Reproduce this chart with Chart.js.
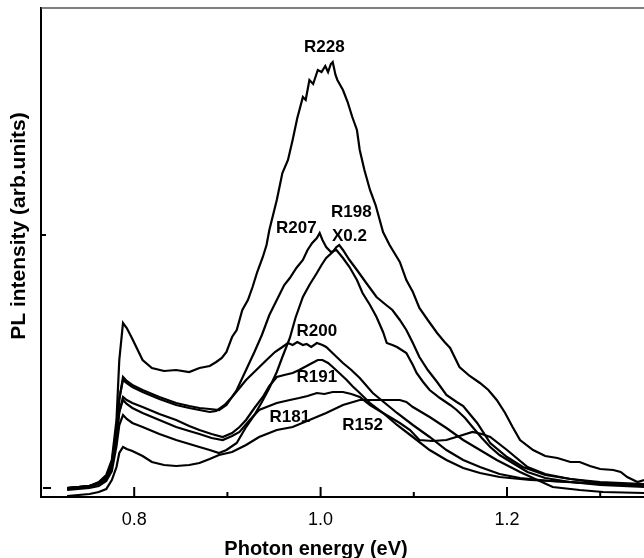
<!DOCTYPE html>
<html>
<head>
<meta charset="utf-8">
<script src="https://cdn.jsdelivr.net/npm/chart.js@4.4.1/dist/chart.umd.min.js"></script>
<style>html,body{margin:0;padding:0;background:#fff}</style>
</head>
<body>
<canvas id="plChart" width="644" height="558"></canvas>
<script>
// PL spectra of the R-samples, photon energy (eV) vs intensity (arb. units)

const eR228 = [0.728,0.752,0.762,0.770,0.776,0.781,0.784,0.788,0.792,0.797,0.809,0.819,0.832,0.845,0.859,0.870,0.881,0.888,0.894,0.899,0.905,0.910,0.916,0.922,0.927,0.932,0.938,0.942,0.945,0.953,0.959,0.965,0.970,0.975,0.981,0.984,0.988,0.992,0.997,1.001,1.005,1.008,1.011,1.013,1.016,1.018,1.024,1.029,1.034,1.039,1.042,1.047,1.053,1.059,1.067,1.074,1.085,1.092,1.099,1.106,1.115,1.125,1.133,1.139,1.149,1.160,1.171,1.180,1.189,1.198,1.206,1.214,1.228,1.241,1.254,1.268,1.278,1.289,1.300,1.314,1.322,1.329,1.340,1.347];
const iR228 = [0,2,6,13,28,68,128,165,160,151,128,120,117,118,116,120,122,126,130,136,151,158,178,188,201,216,231,243,258,288,315,328,348,370,391,388,408,404,418,416,422,416,424,426,413,408,398,386,371,358,338,318,298,283,256,243,226,208,196,180,168,155,146,140,121,112,105,98,88,75,61,48,38,32,30,26,26,22,19,18,16,11,6,8];

const eR207 = [0.728,0.752,0.762,0.770,0.776,0.781,0.784,0.788,0.792,0.798,0.809,0.827,0.845,0.859,0.870,0.881,0.891,0.899,0.910,0.920,0.929,0.937,0.945,0.953,0.961,0.967,0.974,0.981,0.986,0.991,0.996,0.999,1.002,1.006,1.011,1.017,1.024,1.031,1.039,1.045,1.053,1.060,1.067,1.071,1.077,1.082,1.092,1.099,1.103,1.110,1.117,1.128,1.139,1.146,1.155,1.163,1.173,1.182,1.192,1.206,1.222,1.241,1.268,1.300,1.347];
const iR207 = [0,2,5,11,24,58,88,111,107,103,98,91,85,82,80,79,78,83,98,118,136,153,173,188,203,210,220,228,238,245,250,255,248,241,236,238,230,221,208,195,183,171,156,145,143,141,135,123,115,106,98,90,83,78,70,61,50,41,33,25,16,10,6,3,1];

const eR198 = [0.728,0.752,0.762,0.770,0.776,0.781,0.784,0.788,0.792,0.798,0.809,0.827,0.845,0.870,0.881,0.891,0.899,0.910,0.920,0.929,0.937,0.945,0.953,0.959,0.967,0.973,0.981,0.988,0.996,1.001,1.006,1.013,1.017,1.020,1.024,1.031,1.039,1.049,1.060,1.069,1.077,1.085,1.092,1.099,1.106,1.115,1.125,1.135,1.146,1.153,1.160,1.168,1.182,1.200,1.217,1.241,1.268,1.300,1.347];
const iR198 = [-2,0,2,7,17,42,63,73,69,65,61,54,48,41,38,35,38,45,61,73,86,100,116,131,150,170,191,203,215,223,230,236,241,243,238,228,218,205,191,184,178,168,158,145,131,118,106,93,86,82,74,65,45,31,21,13,9,6,4];

const eR200 = [0.728,0.752,0.762,0.770,0.776,0.781,0.784,0.788,0.792,0.798,0.809,0.827,0.845,0.859,0.870,0.881,0.888,0.897,0.905,0.913,0.920,0.931,0.942,0.951,0.959,0.965,0.970,0.975,0.981,0.985,0.990,0.996,1.002,1.006,1.015,1.024,1.033,1.042,1.056,1.069,1.082,1.099,1.117,1.135,1.153,1.171,1.192,1.214,1.246,1.300,1.347];
const iR200 = [0,2,5,11,25,60,90,108,105,101,96,89,83,80,78,76,77,83,91,100,108,118,128,136,141,145,143,146,143,144,141,145,143,141,133,125,118,110,95,85,75,63,51,38,28,21,14,10,7,4,2];

const eR191 = [0.728,0.752,0.762,0.770,0.776,0.781,0.784,0.788,0.792,0.798,0.809,0.827,0.845,0.859,0.870,0.883,0.895,0.905,0.913,0.920,0.929,0.938,0.945,0.953,0.961,0.970,0.977,0.985,0.991,0.997,1.002,1.008,1.013,1.020,1.028,1.034,1.042,1.053,1.067,1.082,1.099,1.117,1.135,1.153,1.171,1.192,1.225,1.268,1.311,1.347];
const iR191 = [-1,1,4,9,21,51,76,91,88,85,81,74,68,62,58,54,51,55,61,68,80,91,102,111,113,115,118,122,125,128,128,125,121,115,108,102,95,85,75,63,51,38,28,20,15,11,8,6,4,3];

const eR181 = [0.728,0.752,0.762,0.770,0.776,0.781,0.784,0.788,0.792,0.798,0.809,0.827,0.845,0.859,0.870,0.883,0.895,0.905,0.913,0.924,0.934,0.942,0.953,0.967,0.977,0.986,0.996,1.004,1.013,1.024,1.033,1.042,1.053,1.067,1.085,1.096,1.106,1.120,1.135,1.149,1.163,1.173,1.182,1.200,1.222,1.241,1.268,1.300,1.347];
const iR181 = [0,2,5,10,22,53,76,88,84,80,75,68,61,57,54,50,48,52,56,68,78,81,85,88,90,92,95,94,96,96,94,91,83,75,65,58,48,47,48,52,56,54,51,38,21,14,9,5,2];

const eR152 = [0.728,0.752,0.762,0.770,0.776,0.781,0.784,0.788,0.792,0.798,0.809,0.819,0.832,0.845,0.859,0.870,0.881,0.891,0.905,0.920,0.934,0.953,0.970,0.988,1.006,1.024,1.042,1.067,1.085,1.092,1.099,1.117,1.135,1.153,1.171,1.189,1.214,1.249,1.278,1.303,1.347];
const iR152 = [-8,-6,-4,-1,8,21,35,41,39,37,32,26,23,22,23,25,29,33,36,43,51,58,61,68,75,83,88,88,88,86,81,71,60,48,38,28,16,1,-2,-4,-5];

// curve names and where they sit (energy, intensity)
const labelText = ['R228', 'R207', 'R198', 'X0.2', 'R200', 'R191', 'R181', 'R152'];
const labelE = [1.004, 0.974, 1.033, 1.031, 0.996, 0.996, 0.967, 1.045];
const labelI = [441, 260, 276, 252, 157, 111, 71, 63];

const xMajor = [0.8, 1.0, 1.2];
const xMinor = [0.9, 1.1, 1.3];
const yTicks = [0, 253];

const FONT = '"Liberation Sans", Arial, sans-serif';

const toPoints = (e, v) => e.map((x, i) => ({ x, y: v[i] }));
const curve = (label, e, v) => ({
    label, data: toPoints(e, v), borderColor: '#000', borderWidth: 2.2,
    pointRadius: 0, tension: 0, fill: false
});

// Frame, inward tick marks, curve labels and axis titles
const decor = {
    id: 'decor',
    afterDraw(chart) {
        const { ctx, chartArea: a, scales: { x, y } } = chart;
        ctx.save();
        ctx.strokeStyle = '#555';
        ctx.lineWidth = 1.5;
        ctx.beginPath(); ctx.moveTo(a.left, a.top); ctx.lineTo(a.right, a.top); ctx.stroke();

        ctx.strokeStyle = '#000';
        ctx.lineWidth = 2;
        ctx.beginPath();
        xMajor.forEach(v => { const p = x.getPixelForValue(v); ctx.moveTo(p, a.bottom); ctx.lineTo(p, a.bottom - 10); });
        xMinor.forEach(v => { const p = x.getPixelForValue(v); ctx.moveTo(p, a.bottom); ctx.lineTo(p, a.bottom - 5); });
        yTicks.forEach((v, i) => { const p = y.getPixelForValue(v); ctx.moveTo(a.left + (i ? 0 : 2), p); ctx.lineTo(a.left + (i ? 5 : 10), p); });
        ctx.stroke();

        ctx.fillStyle = '#000';
        ctx.font = 'bold 17px ' + FONT;
        ctx.textAlign = 'center';
        ctx.textBaseline = 'middle';
        labelText.forEach((t, i) => ctx.fillText(t, x.getPixelForValue(labelE[i]), y.getPixelForValue(labelI[i])));

        ctx.font = 'bold 20px ' + FONT;
        ctx.textBaseline = 'alphabetic';
        ctx.fillText('Photon energy (eV)', 316, 555);

        ctx.translate(25, 226);
        ctx.rotate(-Math.PI / 2);
        ctx.font = 'bold 21px ' + FONT;
        ctx.fillText('PL intensity (arb.units)', 0, 0);
        ctx.restore();
    }
};

new Chart(document.getElementById('plChart'), {
    type: 'line',
    data: {
        datasets: [
            curve('R228', eR228, iR228),
            curve('R207', eR207, iR207),
            curve('R198', eR198, iR198),
            curve('R200', eR200, iR200),
            curve('R191', eR191, iR191),
            curve('R181', eR181, iR181),
            curve('R152', eR152, iR152)
        ]
    },
    options: {
        responsive: false,
        animation: false,
        layout: { padding: { top: 8, right: 0, left: 0, bottom: 0 } },
        plugins: { legend: { display: false }, tooltip: { enabled: false } },
        scales: {
            x: {
                type: 'linear', min: 0.7, max: 1.347,
                afterFit: s => { s.height = 61; },
                afterBuildTicks: s => { s.ticks = xMajor.map(value => ({ value })); },
                grid: { display: false, drawTicks: false },
                border: { display: true, color: '#000', width: 2 },
                ticks: { padding: 12, color: '#000', font: { family: FONT, size: 18 }, callback: v => v.toFixed(1) }
            },
            y: {
                min: -9, max: 480,
                afterFit: s => { s.width = 41; },
                grid: { display: false, drawTicks: false },
                border: { display: true, color: '#000', width: 2 },
                ticks: { display: false }
            }
        }
    },
    plugins: [decor]
});
</script>
</body>
</html>
